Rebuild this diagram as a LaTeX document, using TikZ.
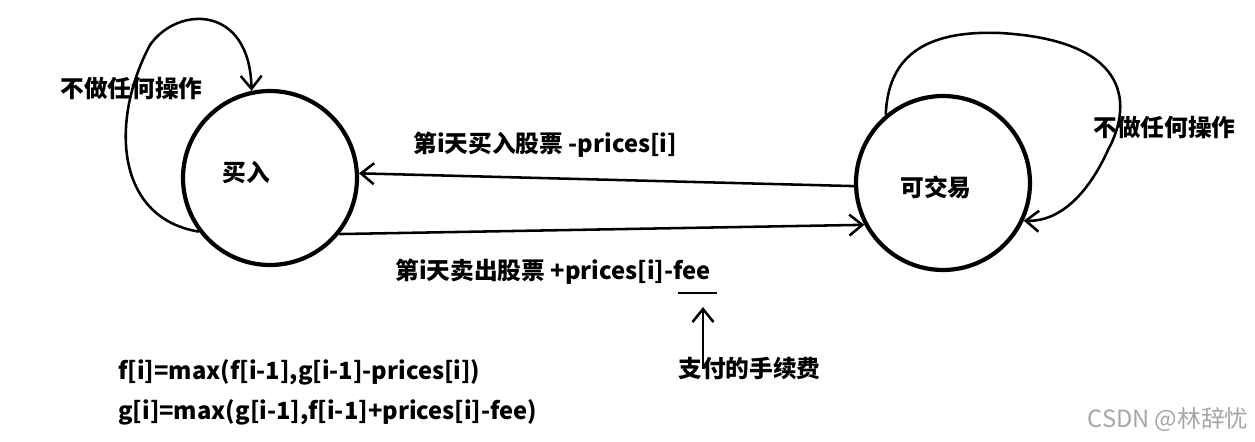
\documentclass[tikz,border=0pt]{standalone}
\usepackage{fontspec}
\setmainfont{Noto Sans CJK SC}
\usetikzlibrary{arrows.meta,positioning}

\begin{document}
\begin{tikzpicture}[x=0.02cm,y=-0.02cm,
  font=\bfseries\fontsize{13.5pt}{16pt}\selectfont,
  state/.style={draw,circle,line width=2.4pt,minimum size=3.48cm,inner sep=0pt},
  lbl/.style={anchor=west,inner sep=0pt},
  arr/.style={-{Straight Barb[length=2.6mm,width=4.2mm]},line width=1.45pt}]
  \useasboundingbox (0,0) rectangle (1255,442);
  \node[state](buy) at (270,178){};
  \node[state](trade) at (943,183){};
  \node[lbl](buytxt) at (222,172){买入};
  \node[lbl](tradetxt) at (900,187){可交易};
  % self loops
  \node[lbl](idleL) at (60,88){不做任何操作};
  \node[lbl](idleR) at (1093,127){不做任何操作};
  \draw[arr](buy.217) .. controls (115,218) and (110,120) .. (150,45)
    .. controls (178,5) and (250,5) .. (buy.102);
  \draw[arr](trade.130) .. controls (888,60) and (920,30) .. (1000,33)
    .. controls (1125,40) and (1135,100) .. (1108,150)
    .. controls (1090,190) and (1062,222) .. (trade.335);
  % transitions
  \node[lbl](buyday) at (413,145){第i天买入股票 -prices[i]};
  \node[lbl](sellday) at (395,272){第i天卖出股票 +prices[i]-fee};
  \draw[arr](trade.182)--(buy.3);
  \draw[arr](buy.321)--(trade.208);
  % fee note
  \coordinate(ulA) at (678,293);\coordinate(ulB) at (717,293);
  \draw[line width=1.45pt](ulA)--(ulB);
  \node[lbl](feenote) at (678,368){支付的手续费};
  \coordinate(feetip) at (703,307);
  \draw[arr]([yshift=-0.25cm]feenote.north -| feetip)--(feetip);
  % recurrences
  \node[lbl](fdp) at (118,372){f[i]=max(f[i-1],g[i-1]-prices[i])};
  \node[lbl](gdp) at (118,412){g[i]=max(g[i-1],f[i-1]+prices[i]-fee)};
  \node[font=\fontsize{13.5pt}{16pt}\selectfont,text=black!35](mark) at (1168,420){CSDN @林辞忧};
\end{tikzpicture}
\end{document}
